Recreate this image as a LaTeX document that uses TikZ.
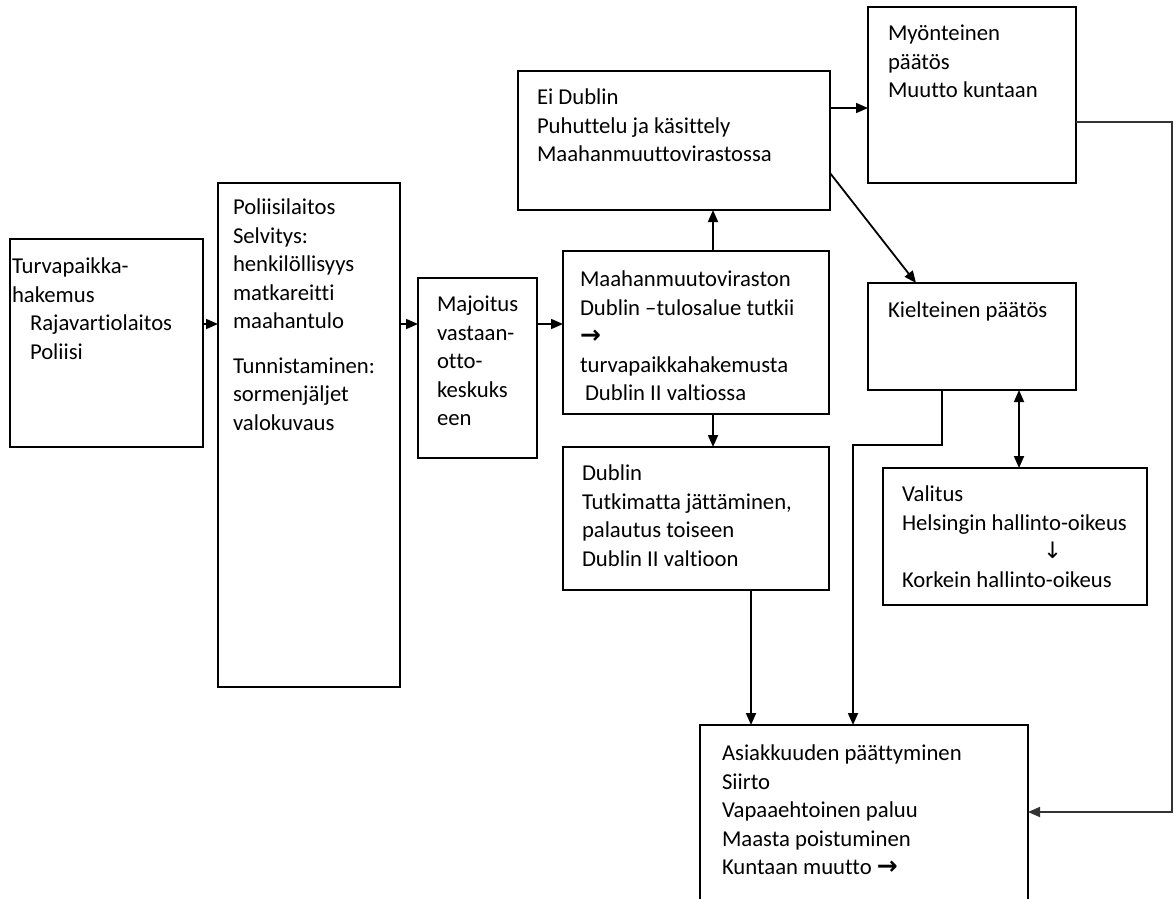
\documentclass[tikz,border=0pt]{standalone}
\usepackage{fontspec}
\setmainfont{Carlito}[Ligatures=NoCommon]
\newfontfamily\symf{DejaVu Sans}
\usetikzlibrary{arrows.meta}
\newcommand{\bt}[5]{\parbox[t][#2][t]{#1}{\fontsize{22.7}{28.5}\selectfont\raggedright\leftskip=#3\relax\vspace*{#4}\strut #5}}
\newcommand{\rarr}{{\symf\bfseries\fontsize{25}{28.5}\selectfont →}}
\begin{document}
\begin{tikzpicture}[x=1pt,y=-1pt,
  box/.style={draw, line width=1.8pt, inner sep=0pt, outer sep=0pt, anchor=north west},
  arr/.style={line width=1.8pt, -{Triangle[length=12pt,width=10pt]}},
  darr/.style={line width=1.8pt, {Triangle[length=12pt,width=10pt]}-{Triangle[length=12pt,width=10pt]}}]
\useasboundingbox (0,0) rectangle (1174,898);
\fill[white] (0,0) rectangle (1174,898);
% boxes
\node[box] (A) at (10,239) {\bt{193pt}{208pt}{2pt}{15pt}{Turvapaikka-\\hakemus\\\hspace*{18pt}Rajavartiolaitos\\\hspace*{18pt}Poliisi}};
\node[box] (B) at (218,183) {\bt{182pt}{504pt}{15pt}{12pt}{Poliisilaitos\\Selvitys:\\henkilöllisyys\\matkareitti\\maahantulo\\[16pt]Tunnistaminen:\\sormenjäljet\\valokuvaus}};
\node[box] (C) at (418,278) {\bt{119pt}{180pt}{19pt}{14pt}{Majoitus\\vastaan-\\otto-\\keskuks\\een}};
\node[box] (D) at (563,251) {\bt{266pt}{163pt}{17pt}{16pt}{Maahanmuutoviraston\\Dublin –tulosalue tutkii\\\rarr\\turvapaikkahakemusta\\\hspace*{5pt}Dublin II valtiossa}};
\node[box] (E) at (518,71) {\bt{312pt}{139pt}{19pt}{14pt}{Ei Dublin\\Puhuttelu ja käsittely\\Maahanmuuttovirastossa}};
\node[box] (F) at (563,447) {\bt{266pt}{143pt}{19pt}{14pt}{Dublin\\Tutkimatta jättäminen,\\palautus toiseen\\Dublin II valtioon}};
\node[box] (G) at (868,7) {\bt{208pt}{176pt}{20pt}{14pt}{Myönteinen\\päätös\\Muutto kuntaan}};
\node[box] (H) at (868,283) {\bt{208pt}{107pt}{20pt}{15pt}{Kielteinen päätös}};
\node[box] (I) at (883,468) {\bt{264pt}{137pt}{19pt}{14pt}{Valitus\\Helsingin hallinto-oikeus\\\hspace*{141pt}{\symf ↓}\\Korkein hallinto-oikeus}};
\node[box] (J) at (700,725) {\bt{328pt}{200pt}{22pt}{16pt}{Asiakkuuden päättyminen\\Siirto\\Vapaaehtoinen paluu\\Maasta poistuminen\\Kuntaan muutto \rarr}};
% helper coordinates
\coordinate (r1) at (0,324);
\coordinate (c1) at (713,0);
\coordinate (c2) at (751,0);
\coordinate (c3) at (1019,0);
\coordinate (eg) at (0,108);
\coordinate (eh) at (830,173);
\coordinate (hh) at (916,283);
\coordinate (hj1) at (942,445);
\coordinate (hj2) at (853,445);
\coordinate (gj1) at (1172,122);
\coordinate (gj2) at (1172,812);
% connectors
\draw[arr] (A.east |- r1) -- (B.west |- r1);
\draw[arr] (B.east |- r1) -- (C.west |- r1);
\draw[arr] (C.east |- r1) -- (D.west |- r1);
\draw[arr] (D.north -| c1) -- (E.south -| c1);
\draw[arr] (D.south -| c1) -- (F.north -| c1);
\draw[arr] (E.east |- eg) -- (G.west |- eg);
\draw[arr] (E.east |- eh) -- (H.north -| hh);
\draw[arr] (H.south -| hj1) -- (hj1) -- (hj2) -- (J.north -| hj2);
\draw[darr] (H.south -| c3) -- (I.north -| c3);
\draw[arr] (F.south -| c2) -- (J.north -| c2);
\draw[arr, draw=black!80] (G.east |- gj1) -- (gj1) -- (gj2) -- (J.east |- gj2);
\end{tikzpicture}
\end{document}
